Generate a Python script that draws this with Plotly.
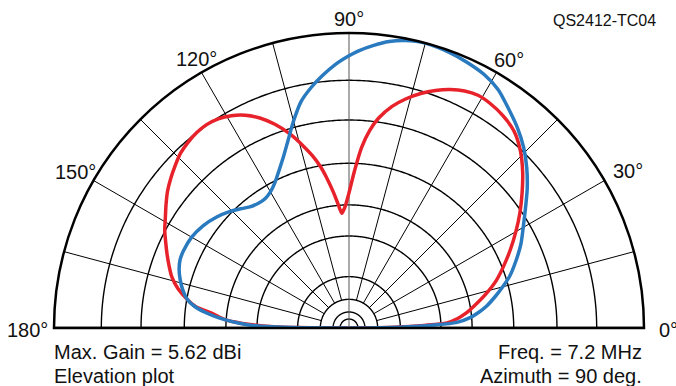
import numpy as np
import plotly.graph_objects as go

# Elevation pattern, gain relative to the 5.62 dBi maximum (dB), vs elevation angle (deg)
blue_elev = [0, 1, 2, 3, 5, 7, 9, 12, 15, 18, 22, 26, 30, 34, 38, 42, 46, 50, 54, 58,
             62, 66, 70, 75, 79, 82, 85, 88, 90, 93, 96, 99, 102, 105, 108, 111, 114,
             117, 120, 123, 126, 129, 132, 136, 140, 145, 150, 155, 158, 161, 164, 167,
             170, 172, 174, 175.5, 177, 178, 179, 179.5, 180]
blue_gain = [-100, -30.44, -21.34, -17.23, -15.14, -13.91, -12.90, -11.71, -10.59, -9.54,
             -8.46, -7.44, -6.57, -5.61, -4.56, -3.60, -2.75, -2.05, -1.44, -0.82, -0.45,
             -0.25, -0.10, 0.0, -0.13, -0.34, -0.67, -1.06, -1.38, -1.92, -2.58, -3.31,
             -4.18, -5.49, -6.91, -8.18, -9.24, -10.16, -10.81, -11.14, -11.14, -10.92,
             -10.43, -9.75, -9.19, -8.65, -8.32, -8.23, -8.27, -8.51, -8.90, -9.39,
             -10.06, -10.92, -12.41, -13.91, -16.00, -18.04, -21.95, -28.81, -100]

red_elev = [0, 1, 2, 3, 5, 7, 10, 14, 18, 22, 26, 30, 34, 38, 42, 46, 50, 54, 58, 61,
            64, 67, 70, 73, 76, 79, 82, 84, 86, 88, 90, 91, 92, 93, 93.6, 95, 96, 97,
            98.5, 100, 102, 104, 107, 110, 113, 116, 119, 122, 125, 128, 131, 134, 137,
            140, 143, 146, 149, 152, 155, 158, 161, 164, 167, 170, 172, 174, 176, 177,
            178, 179, 179.5, 180]
red_gain = [-100, -32.25, -23.49, -18.89, -17.07, -15.85, -14.45, -12.65, -11.03, -9.75,
            -8.51, -7.31, -6.15, -5.06, -4.00, -3.07, -2.38, -2.02, -1.82, -1.77, -1.92,
            -2.23, -2.65, -3.17, -3.81, -4.59, -5.69, -6.78, -8.37, -10.81, -13.40,
            -14.45, -15.35, -15.93, -16.18, -14.86, -13.78, -12.77, -11.36, -10.11,
            -8.85, -7.81, -6.40, -5.29, -4.41, -3.78, -3.35, -3.07, -2.96, -3.00, -3.14,
            -3.35, -3.70, -4.07, -4.48, -4.98, -5.49, -5.94, -6.48, -7.00, -7.53, -8.08,
            -8.90, -10.06, -11.03, -13.15, -14.72, -16.30, -18.72, -23.49, -30.44, -100]

# Chart furniture
grid_db = [-3, -6, -10, -15, -20, -30, -40, -50, -60]
spoke_deg = [15, 30, 45, 60, 75, 90, 105, 120, 135, 150, 165]
spoke_inner_db = -40
label_deg = [0, 30, 60, 90, 120, 150, 180]


def arrl(db):
    """ARRL log-periodic radial scale: each 2 dB step scales the radius by 0.89."""
    return 0.89 ** (-np.asarray(db, dtype=float) / 2.0)


fig = go.Figure()

# constant-gain circles
arc = np.linspace(0, 180, 361)
for db in grid_db:
    fig.add_trace(go.Scatterpolar(r=np.full(arc.size, arrl(db)), theta=arc, mode="lines",
                                  line=dict(color="#000000", width=1.4),
                                  hoverinfo="skip", showlegend=False))

# angular spokes
for a in spoke_deg:
    r0 = 0.0 if a == 90 else float(arrl(spoke_inner_db))
    fig.add_trace(go.Scatterpolar(r=[r0, 1.0], theta=[a, a], mode="lines",
                                  line=dict(color="#000000" if a != 90 else "#555555", width=1),
                                  hoverinfo="skip", showlegend=False))

# ground line
fig.add_trace(go.Scatterpolar(r=[1.0, 0.0, 1.0], theta=[180, 90, 0], mode="lines",
                              line=dict(color="#000000", width=2.5),
                              hoverinfo="skip", showlegend=False))

fig.add_trace(go.Scatterpolar(r=arrl(red_gain), theta=red_elev, mode="lines",
                              line=dict(color="#e8222b", width=3.5, shape="spline", smoothing=0.8),
                              showlegend=False))
fig.add_trace(go.Scatterpolar(r=arrl(blue_gain), theta=blue_elev, mode="lines",
                              line=dict(color="#2a7abf", width=3.5, shape="spline", smoothing=0.8),
                              showlegend=False))

font = "Arial, 'Liberation Sans', sans-serif"
fig.update_layout(
    width=676, height=386,
    margin=dict(l=54, r=32, t=33, b=58),
    paper_bgcolor="white",
    font=dict(family=font, color="#111111"),
    polar=dict(
        domain=dict(x=[0, 1], y=[0, 1]),
        sector=[0, 180],
        bgcolor="white",
        radialaxis=dict(range=[0, 1], visible=False),
        angularaxis=dict(
            rotation=0, direction="counterclockwise",
            tickmode="array", tickvals=label_deg,
            showticklabels=False, ticks="", showgrid=False,
            showline=True, linecolor="#000000", linewidth=2.5,
        ),
    ),
)


def px(x, y):
    return (x - 54) / 590.0, (328 - y) / 295.0


# angle labels around the rim (pixel anchor, alignment)
angle_pos = {0: (657, 330, "left"), 30: (628, 171, "center"), 60: (509, 59.5, "center"),
             90: (349, 19.5, "center"), 120: (196, 59, "center"), 150: (75, 172, "center"),
             180: (50, 330, "right")}
for d in label_deg:
    x, y, anchor = angle_pos[d]
    xp, yp = px(x, y)
    fig.add_annotation(text=f"{d}°", x=xp, y=yp, xref="paper", yref="paper",
                       xanchor=anchor, yanchor="middle", showarrow=False,
                       font=dict(size=20, family=font, color="#111111"))

notes = [
    ("QS2412-TC04", 658, 21, "right", 16),
    ("Max. Gain = 5.62 dBi", 52, 352, "left", 20),
    ("Elevation plot", 52, 376, "left", 20),
    ("Freq. = 7.2 MHz", 644, 352, "right", 20),
    ("Azimuth = 90 deg.", 644, 376, "right", 20),
]
for text, x, y, anchor, size in notes:
    xp, yp = px(x, y)
    fig.add_annotation(text=text, x=xp, y=yp, xref="paper", yref="paper",
                       xanchor=anchor, yanchor="middle", showarrow=False,
                       font=dict(size=size, family=font, color="#111111"))

fig.write_html("out.html")
